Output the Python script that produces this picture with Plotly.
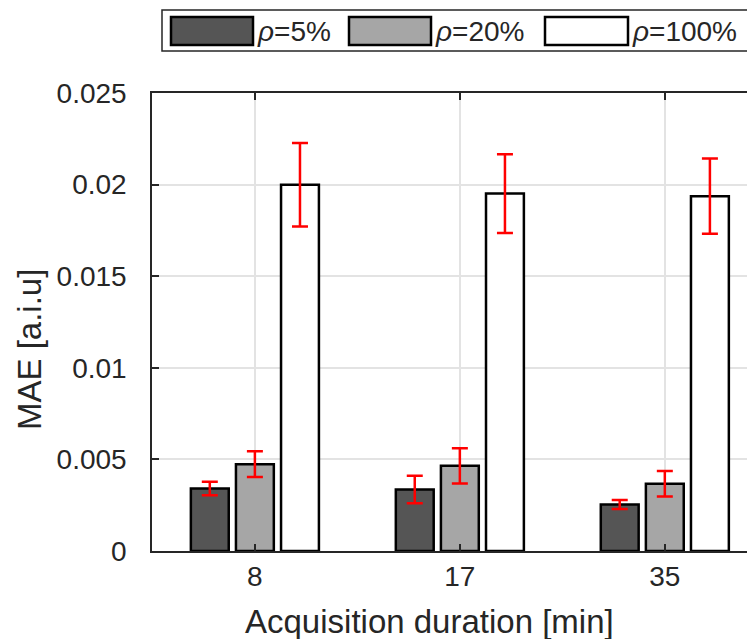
import plotly.graph_objects as go

# ---- data ----
categories = ["8", "17", "35"]
series_names = ["5%", "20%", "100%"]
mae_rho5 = [0.00341, 0.00336, 0.00254]
mae_rho20 = [0.00474, 0.00465, 0.00367]
mae_rho100 = [0.01999, 0.01951, 0.01937]
err_rho5 = [0.00037, 0.00075, 0.00025]
err_rho20 = [0.00070, 0.00096, 0.00069]
err_rho100 = [0.00228, 0.00215, 0.00205]
y_ticks = [0, 0.005, 0.01, 0.015, 0.02, 0.025]
y_ticktext = ["0", "0.005", "0.01", "0.015", "0.02", "0.025"]
x_title = "Acquisition duration [min]"
y_title = "MAE [a.i.u]"

values = [mae_rho5, mae_rho20, mae_rho100]
errors = [err_rho5, err_rho20, err_rho100]
colors = ["#555555", "#a6a6a6", "#ffffff"]

OFF = 8  # page body margin
W, H = 755 - OFF, 639 - OFF
L, T, B, R = 152 - OFF, 93 - OFF, 88, 0
PW = W - L - R
PH = H - T - B
FONT = "Liberation Sans, Arial, Helvetica, sans-serif"
TXT = "#262626"

fig = go.Figure()
for name, vals, errs, col in zip(series_names, values, errors, colors):
    fig.add_trace(go.Bar(
        x=categories, y=vals, name=name,
        marker=dict(color=col, line=dict(color="#000000", width=2.5)),
        error_y=dict(type="data", array=errs, visible=True,
                     color="#ff0000", thickness=2.5, width=8),
        showlegend=False,
    ))

# legend drawn as shapes + text (wide swatches like the original)
def px_x(p):
    return (p - OFF - L) / PW

def px_y(p):
    return (H - B - (p - OFF)) / PH

shapes = [dict(type="rect", xref="paper", yref="paper",
               x0=px_x(162), x1=px_x(750), y0=px_y(51), y1=px_y(10),
               line=dict(color=TXT, width=1.5), fillcolor="white", layer="above")]
annotations = []
sw_x = [(171, 253), (349, 431), (545, 628)]
for (x0, x1), name, col in zip(sw_x, series_names, colors):
    shapes.append(dict(type="rect", xref="paper", yref="paper",
                       x0=px_x(x0), x1=px_x(x1), y0=px_y(45), y1=px_y(17),
                       line=dict(color="#000000", width=2.5), fillcolor=col,
                       layer="above"))
    annotations.append(dict(xref="paper", yref="paper", x=px_x(x1 + 2), y=px_y(32),
                            xanchor="left", yanchor="middle", showarrow=False,
                            text="<i>ρ</i>=" + name,
                            font=dict(family=FONT, size=28, color=TXT)))

# axis titles
annotations.append(dict(xref="paper", yref="paper", x=px_x(429), y=px_y(621),
                        xanchor="center", yanchor="middle", showarrow=False,
                        text=x_title, font=dict(family=FONT, size=33, color=TXT)))
annotations.append(dict(xref="paper", yref="paper", x=px_x(30), y=px_y(350),
                        xanchor="center", yanchor="middle", showarrow=False,
                        textangle=-90,
                        text=y_title, font=dict(family=FONT, size=33, color=TXT)))

fig.update_layout(
    width=W, height=H,
    margin=dict(l=L, r=R, t=T, b=B, autoexpand=False),
    paper_bgcolor="white", plot_bgcolor="white",
    barmode="group", bargap=0.34, bargroupgap=0.16,
    font=dict(family=FONT, size=28, color=TXT),
    shapes=shapes, annotations=annotations,
    xaxis=dict(
        type="category", range=[-0.502, 2.44],
        showline=True, linecolor=TXT, linewidth=1.5, mirror="ticks",
        ticks="inside", ticklen=7, tickcolor=TXT, tickwidth=1.5,
        showgrid=True, gridcolor="#e3e3e3", gridwidth=1.5,
        tickfont=dict(size=28, color=TXT),
        automargin=False,
    ),
    yaxis=dict(
        range=[0, 0.025], tickvals=y_ticks, ticktext=y_ticktext,
        showline=True, linecolor=TXT, linewidth=1.5, mirror=False,
        ticks="inside", ticklen=7, tickcolor=TXT, tickwidth=1.5,
        showgrid=True, gridcolor="#e3e3e3", gridwidth=1.5,
        zeroline=False,
        tickfont=dict(size=28, color=TXT),
        ticklabelstandoff=18,
        automargin=False,
    ),
)

fig.write_html("out.html")
